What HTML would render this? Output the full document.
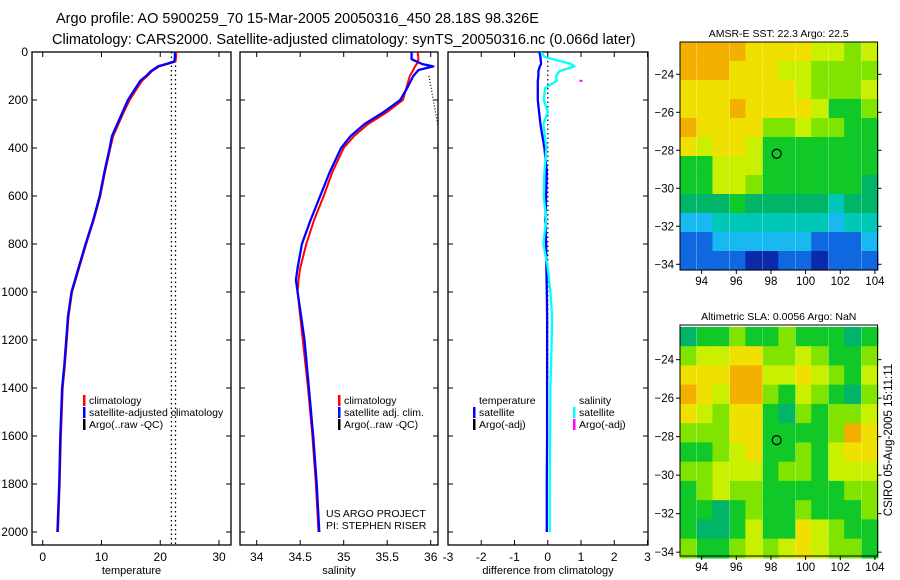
<!DOCTYPE html>
<html><head><meta charset="utf-8">
<style>
html,body{margin:0;padding:0;background:#fff;}
svg{display:block;font-family:"Liberation Sans",sans-serif;}
</style></head>
<body>
<svg id="chart" width="900" height="580" viewBox="0 0 900 580" xmlns="http://www.w3.org/2000/svg">
<text x="56" y="23" font-size="14.5">Argo profile: AO 5900259_70 15-Mar-2005 20050316_450 28.18S 98.326E</text>
<text x="52" y="44" font-size="14.5">Climatology: CARS2000. Satellite-adjusted climatology: synTS_20050316.nc (0.066d later)</text>
<text transform="translate(892,440) rotate(-90)" text-anchor="middle" font-size="11.5">CSIRO 05-Aug-2005 15:11:11</text>
</svg>
<script>
// ---------- data ----------
const depthTicks=[0,200,400,600,800,1000,1200,1400,1600,1800,2000];
const tempTicks=[0,10,20,30];
const salTicks=[34,34.5,35,35.5,36];
const diffTicks=[-3,-2,-1,0,1,2,3];
const tDepth=[0,20,40,50,60,80,100,120,150,200,250,300,350,400,500,600,700,800,900,1000,1100,1200,1300,1400,1600,1800,2000];
const tempClim=[22.7,22.7,22.6,21.2,19.8,18.6,17.8,16.9,16.1,14.8,13.8,12.9,12.0,11.5,10.6,9.8,8.7,7.4,6.2,5.0,4.4,4.1,3.8,3.4,3.1,2.9,2.6];
const tempSat=[22.5,22.5,22.4,21.0,19.6,18.4,17.6,16.6,15.8,14.5,13.6,12.7,11.8,11.4,10.5,9.7,8.6,7.3,6.1,4.9,4.3,4.0,3.7,3.3,3.0,2.8,2.5];
const argoTempA=[21.9,21.9];
const argoTempB=[22.6,22.6];
const argoTempDepth=[0,2050];
const sDepth=[0,30,50,60,75,100,150,200,250,300,350,400,500,600,700,800,900,950,1000,1100,1200,1400,1600,1800,2000];
const salClim=[35.85,35.86,35.84,35.82,35.8,35.76,35.72,35.68,35.5,35.28,35.12,35.0,34.87,34.77,34.66,34.57,34.5,34.48,34.47,34.5,34.53,34.59,34.64,34.68,34.71];
const salSat=[35.78,35.78,35.9,36.03,35.86,35.8,35.73,35.65,35.46,35.24,35.08,34.97,34.84,34.73,34.62,34.52,34.47,34.45,34.47,34.51,34.55,34.6,34.65,34.69,34.72];
const argoSalDepth=[100,200,300,360,420];
const argoSal=[35.98,36.03,36.08,36.12,36.16];
const dDepth=[0,20,50,60,80,100,120,150,200,250,300,400,500,600,700,800,900,1000,1100,1200,1400,1600,1800,2000];
const diffTemp=[-0.25,-0.22,-0.2,-0.24,-0.28,-0.28,-0.3,-0.3,-0.3,-0.26,-0.22,-0.1,-0.03,-0.05,-0.07,-0.05,-0.04,-0.03,-0.02,-0.02,-0.02,-0.02,-0.03,-0.03];
const diffSal=[-0.2,-0.1,0.7,0.8,0.35,0.25,0.27,-0.08,-0.12,0.0,-0.13,-0.04,-0.1,-0.12,-0.05,-0.13,0.0,0.08,0.13,0.12,0.08,0.07,0.06,0.06];
const argoSalDiff=[1.0];
const argoSalDiffDepth=[120];
const lonTicks=[94,96,98,100,102,104];
const latTicks=[-24,-26,-28,-30,-32,-34];
const lons=[93.2,94.2,95.1,96.1,97.0,98.0,98.9,99.9,100.8,101.8,102.7,103.7];
const lats=[-22.8,-23.8,-24.8,-25.8,-26.8,-27.8,-28.8,-29.8,-30.8,-31.8,-32.8,-33.8];
const sst=[
[9,9,9,9,8,8,8,8,7,7,6,7],
[9,9,9,8,8,8,7,7,6,6,6,6],
[8,8,8,8,8,8,8,7,6,6,6,7],
[8,8,8,9,8,8,8,8,7,5,5,6],
[9,8,8,8,8,6,6,7,6,6,5,5],
[8,7,8,8,7,5,5,5,5,5,5,5],
[5,5,7,7,7,5,5,5,5,5,5,5],
[5,5,7,7,6,5,5,5,5,5,5,4],
[4,4,4,5,4,4,4,4,4,3,4,4],
[2,2,3,3,3,3,3,3,3,2,3,3],
[1,1,2,2,2,2,2,2,1,1,1,2],
[1,1,1,1,0,0,1,1,0,1,1,1]];
const sla=[
[4,5,5,6,5,5,6,5,5,5,4,5],
[6,7,7,8,8,6,6,7,6,5,5,6],
[8,8,8,9,9,7,7,8,7,6,5,7],
[9,8,7,9,9,6,5,7,6,5,4,6],
[8,7,6,8,8,5,4,6,5,6,6,7],
[6,6,6,8,8,5,5,5,5,6,9,8],
[5,5,6,7,8,5,5,6,5,7,8,8],
[6,6,7,7,7,5,6,6,5,7,7,7],
[5,6,7,6,6,5,5,5,5,5,6,6],
[5,5,4,5,6,5,5,6,5,5,5,6],
[5,4,4,5,7,5,5,8,7,6,5,5],
[6,5,5,6,7,6,7,8,7,6,6,5]];
const argoLon=[98.33];
const argoLat=[-28.18];
const palette=["#0a2aaa","#1068e0","#18b8f0","#00c8b8","#00b468","#10c828","#80e400","#c8f000","#f0e000","#f4b000"];

// ---------- helpers ----------
const svg=document.getElementById('chart');
const NS='http://www.w3.org/2000/svg';
function mk(tag,attrs,parent){const e=document.createElementNS(NS,tag);for(const k in attrs)e.setAttribute(k,attrs[k]);(parent||svg).appendChild(e);return e;}
const yD=d=>52+d*0.24;
function lin(v0,p0,v1,p1){return v=>p0+(v-v0)*(p1-p0)/(v1-v0);}
const panels=[
 {x0:32,x1:231,sx:lin(0,42.7,30,219),ticks:tempTicks,label:'temperature',name:'temperature'},
 {x0:240,x1:438,sx:lin(34,256.7,36,430.7),ticks:salTicks,label:'salinity',name:'salinity'},
 {x0:448,x1:648,sx:lin(-3,448,3,647.5),ticks:diffTicks,label:'difference from climatology',name:'difference'}];
const Y0=52,Y1=545;
panels.forEach((p,i)=>{
 const g=mk('g',{});
 
 
 const clip=mk('clipPath',{id:'clip'+i},g);
 mk('rect',{x:p.x0,y:Y0,width:p.x1-p.x0,height:Y1-Y0},clip);
 p.g=g;
 const fr=mk('rect',{x:p.x0,y:Y0,width:p.x1-p.x0,height:Y1-Y0,fill:'none',stroke:'#000','stroke-width':1.3},g);
 
 
 p.ticks.forEach(t=>{
  const x=p.sx(t);
  mk('line',{x1:x,x2:x,y1:Y1,y2:Y1-5,stroke:'#000'},g);
  mk('line',{x1:x,x2:x,y1:Y0,y2:Y0+5,stroke:'#000'},g);
  const tl=mk('text',{x:x,y:Y1+16,'text-anchor':'middle','font-size':12},g);
  
  
  tl.textContent=String(t);
 });
 depthTicks.forEach(d=>{
  mk('line',{x1:p.x0,x2:p.x0+5,y1:yD(d),y2:yD(d),stroke:'#000'},g);
  mk('line',{x1:p.x1,x2:p.x1-5,y1:yD(d),y2:yD(d),stroke:'#000'},g);
  if(i===0){const tl=mk('text',{x:28,y:yD(d)+4,'text-anchor':'end','font-size':12},g);
   
   
   tl.textContent=String(d);}
 });
 const al=mk('text',{x:(p.x0+p.x1)/2,y:574,'text-anchor':'middle','font-size':11},g);
 
 
 al.textContent=p.label;
});
function line(p,xs,ds,color,w,name,dash){
 const pts=xs.map((v,k)=>p.sx(v).toFixed(1)+','+yD(ds[k]).toFixed(1)).join(' ');
 const e=mk('polyline',{points:pts,fill:'none',stroke:color,'stroke-width':w,'clip-path':'url(#clip'+panels.indexOf(p)+')','stroke-linejoin':'round'},p.g);
 if(dash)e.setAttribute('stroke-dasharray',dash);
 
 
 return e;
}
const [P1,P2,P3]=panels;
line(P1,argoTempA,argoTempDepth,'#000',1.3,'argo-temp-line-a','1.5 3');
line(P1,argoTempB,argoTempDepth,'#000',1.3,'argo-temp-line-b','1.5 3');
line(P1,tempClim,tDepth,'#f00',2,'temp-climatology-line');
line(P1,tempSat,tDepth,'#00f',2.3,'temp-satellite-line');
line(P2,argoSal,argoSalDepth,'#000',1.2,'argo-salinity-line','1 2');
line(P2,salClim,sDepth,'#f00',2,'salinity-climatology-line');
line(P2,salSat,sDepth,'#00f',2.3,'salinity-satellite-line');
line(P3,[0,0],[0,1360],'#000',1.2,'zero-line','1.5 3');
line(P3,diffTemp,dDepth,'#00f',2.3,'temp-diff-line');
line(P3,diffSal,dDepth,'#0ff',2.3,'salinity-diff-line');
argoSalDiff.forEach((v,k)=>{const e=mk('rect',{x:P3.sx(v)-1.5,y:yD(argoSalDiffDepth[k])-1,width:3,height:2,fill:'#f0f'},P3.g);
 
 });

// legends
function legend(g,x,y,items,name){
 items.forEach((it,k)=>{
  const yy=y+k*12;
  if(it.c){const s=mk('rect',{x:x,y:yy-9,width:2.5,height:11,fill:it.c},g);
   
   }
  const t=mk('text',{x:x+6,y:yy,'font-size':10.5},g);
  
  
  t.textContent=it.t;
 });
}
legend(P1.g,83,404,[{c:'#f00',t:'climatology'},{c:'#00f',t:'satellite-adjusted climatology'},{c:'#000',t:'Argo(..raw -QC)'}],'temp-legend');
legend(P2.g,338,404,[{c:'#f00',t:'climatology'},{c:'#00f',t:'satellite adj. clim.'},{c:'#000',t:'Argo(..raw -QC)'}],'salinity-legend');
legend(P3.g,473,404,[{t:'temperature'},{c:'#00f',t:'satellite'},{c:'#000',t:'Argo(-adj)'}],'diff-temp-legend');
legend(P3.g,573,404,[{t:'salinity'},{c:'#0ff',t:'satellite'},{c:'#f0f',t:'Argo(-adj)'}],'diff-sal-legend');
[['US ARGO PROJECT',517],['PI: STEPHEN RISER',529]].forEach(a=>{
 const t=mk('text',{x:326,y:a[1],'font-size':10.5},P2.g);
 
 
 t.textContent=a[0];});

// maps
function map(top,bottom,latTop,grid,title,name){
 const x0=680,x1=877.5;
 const sx=lin(92.75,x0,104.15,x1);
 const sy=lin(latTop,top,latTop-12,bottom);
 const g=mk('g',{});
 
 
 const cw=(x1-x0)/lons.length, ch=(bottom-top)/lats.length;
 grid.forEach((row,r)=>row.forEach((v,c)=>{
  const e=mk('rect',{x:(sx(lons[c])-cw/2).toFixed(2),y:(sy(lats[r])-ch/2).toFixed(2),width:(cw+0.6).toFixed(2),height:(ch+0.6).toFixed(2),fill:palette[v]},g);
  
  
 }));
 mk('rect',{x:x0,y:top,width:x1-x0,height:bottom-top,fill:'none',stroke:'#000','stroke-width':1},g);
 lonTicks.forEach(l=>{const x=sx(l);
  mk('line',{x1:x,x2:x,y1:bottom,y2:bottom+4,stroke:'#000'},g);
  const t=mk('text',{x:x,y:bottom+15,'text-anchor':'middle','font-size':11.5},g);
  
  
  t.textContent=String(l);});
 latTicks.forEach(l=>{const y=sy(l);
  mk('line',{x1:x0-4,x2:x0,y1:y,y2:y,stroke:'#000'},g);
  mk('line',{x1:x1,x2:x1+4,y1:y,y2:y,stroke:'#000'},g);
  const t=mk('text',{x:x0-6,y:y+4,'text-anchor':'end','font-size':11.5},g);
  
  
  t.textContent=String(l).replace('-','\u2212');});
 argoLon.forEach((lo,k)=>{const c=mk('circle',{cx:sx(lo),cy:sy(argoLat[k]),r:4.5,fill:'none',stroke:'#000','stroke-width':1.2},g);
  
  });
 const t=mk('text',{x:(x0+x1)/2,y:top-5,'text-anchor':'middle','font-size':10.5},g);
 
 
 t.textContent=title;
}
map(42,270,-22.3,sst,'AMSR-E SST: 22.3 Argo: 22.5','sst');
map(325,556,-22.2,sla,'Altimetric SLA: 0.0056 Argo: NaN','sla');
</script>
</body></html>
